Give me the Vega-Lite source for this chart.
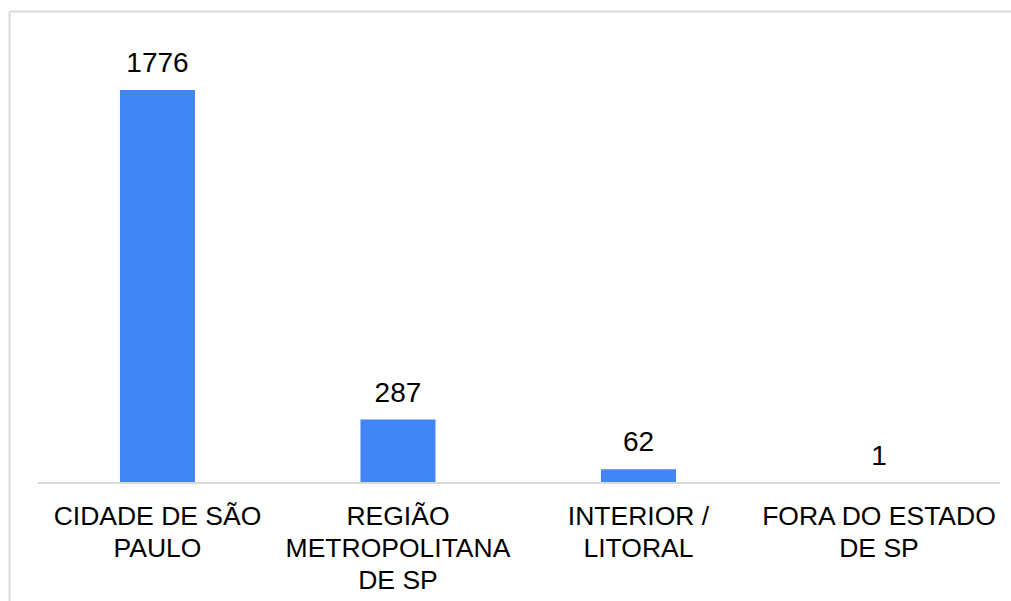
{
  "$schema": "https://vega.github.io/schema/vega-lite/v6.json",
  "autosize": {"type": "none"},
  "padding": {"left": 9, "top": 11, "right": 0, "bottom": 0},
  "width": 1002,
  "height": 590,
  "background": "white",
  "config": {"view": {"stroke": null}},
  "datasets": {
    "regioes": [
      {"regiao": "CIDADE DE SÃO|PAULO", "total": 1776},
      {"regiao": "REGIÃO|METROPOLITANA|DE SP", "total": 287},
      {"regiao": "INTERIOR /|LITORAL", "total": 62},
      {"regiao": "FORA DO ESTADO|DE SP", "total": 1}
    ],
    "eixo": [
      {"inicio": "CIDADE DE SÃO|PAULO", "fim": "FORA DO ESTADO|DE SP"}
    ]
  },
  "layer": [
    {
      "data": {"name": "regioes"},
      "mark": {"type": "bar", "color": "#4285F4"},
      "encoding": {
        "x": {
          "field": "regiao",
          "type": "nominal",
          "title": null,
          "scale": {
            "domain": ["CIDADE DE SÃO|PAULO", "REGIÃO|METROPOLITANA|DE SP", "INTERIOR /|LITORAL", "FORA DO ESTADO|DE SP"],
            "paddingInner": 0.6881,
            "paddingOuter": 0.4272,
            "align": 0.54
          },
          "axis": {
            "orient": "bottom",
            "offset": -118,
            "domain": false,
            "ticks": false,
            "grid": false,
            "labelAngle": 0,
            "labelPadding": 20,
            "labelLimit": 0,
            "labelFont": "Liberation Sans",
            "labelFontSize": 26.5,
            "labelLineHeight": 32,
            "labelColor": "#000000",
            "labelBaseline": "top",
            "labelExpr": "split(datum.value, '|')"
          }
        },
        "y": {
          "field": "total",
          "type": "quantitative",
          "title": null,
          "scale": {"domain": [-533, 2133], "nice": false, "zero": false},
          "axis": {
            "orient": "left",
            "labels": false,
            "ticks": false,
            "domain": true,
            "domainColor": "#d9d9d9",
            "domainWidth": 2,
            "grid": true,
            "gridColor": "#d9d9d9",
            "gridWidth": 2,
            "values": [2133]
          }
        }
      }
    },
    {
      "data": {"name": "regioes"},
      "mark": {"type": "text", "baseline": "alphabetic", "dy": -18, "font": "Liberation Sans", "fontSize": 28, "color": "#000000"},
      "encoding": {
        "x": {"field": "regiao", "type": "nominal", "title": null},
        "y": {"field": "total", "type": "quantitative", "title": null},
        "text": {"field": "total", "type": "quantitative"}
      }
    },
    {
      "data": {"name": "eixo"},
      "mark": {"type": "rule", "color": "#d9d9d9", "strokeWidth": 2},
      "encoding": {
        "x": {"field": "inicio", "type": "nominal", "title": null, "bandPosition": -1.0933},
        "x2": {"field": "fim", "bandPosition": 2.113},
        "y": {"datum": 0, "type": "quantitative"}
      }
    }
  ]
}
